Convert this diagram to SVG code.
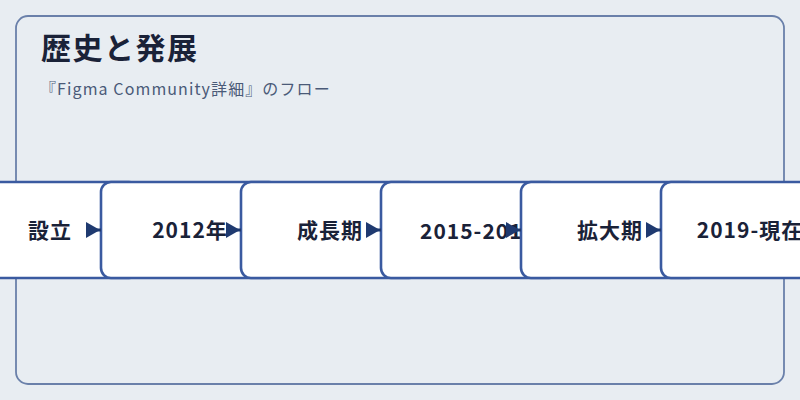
<svg xmlns="http://www.w3.org/2000/svg" width="800" height="400" viewBox="0 0 800 400">
<style>
.bg{fill:#e8edf2}
.panel{fill:#e8edf2;stroke:#6a80aa;stroke-width:1.8}
.box{fill:#ffffff;stroke:#3a5aa0;stroke-width:2.6}
.lbl{font-family:"Noto Sans CJK JP","Noto Sans",sans-serif;font-weight:700;font-size:21px;fill:#1a2238;text-anchor:middle;letter-spacing:1px}
.title{font-family:"Noto Sans CJK JP","Noto Sans",sans-serif;font-weight:700;font-size:30px;fill:#1a2238;letter-spacing:1.5px}
.sub{font-family:"Noto Sans CJK JP","Noto Sans",sans-serif;font-size:16px;fill:#4a5a78;letter-spacing:1.1px}
.conn{stroke:#1f3a70;stroke-width:3;fill:none}
.head{fill:#1f3a70}
</style>
<rect class="bg" x="0" y="0" width="800" height="400"/>
<rect class="panel" x="16" y="16" width="768" height="368" rx="12"/>
<text class="title" x="41" y="59">歴史と発展</text>
<text class="sub" x="40" y="95">『Figma Community詳細』のフロー</text>
<g id="node1"><rect class="box" x="-39" y="182" width="178" height="96" rx="10"/><text class="lbl" x="50" y="238">設立</text></g>
<g id="node2"><rect class="box" x="101" y="182" width="178" height="96" rx="10"/><text class="lbl" x="190" y="238">2012年</text></g>
<g id="node3"><rect class="box" x="241" y="182" width="178" height="96" rx="10"/><text class="lbl" x="330" y="238">成長期</text></g>
<g id="node4"><rect class="box" x="381" y="182" width="178" height="96" rx="10"/><text class="lbl" x="478" y="239">2015-2018</text></g>
<g id="node5"><rect class="box" x="521" y="182" width="178" height="96" rx="10"/><text class="lbl" x="610" y="238">拡大期</text></g>
<g id="node6"><rect class="box" x="661" y="182" width="178" height="96" rx="10"/><text class="lbl" x="750" y="238">2019-現在</text></g>
<g id="connectors">
<line class="conn" x1="90" y1="230" x2="101" y2="230"/><polygon class="head" points="86,222 100,230 86,238"/>
<line class="conn" x1="230" y1="230" x2="241" y2="230"/><polygon class="head" points="226,222 240,230 226,238"/>
<line class="conn" x1="370" y1="230" x2="381" y2="230"/><polygon class="head" points="366,222 380,230 366,238"/>
<line class="conn" x1="510" y1="230" x2="521" y2="230"/><polygon class="head" points="506,222 520,230 506,238"/>
<line class="conn" x1="650" y1="230" x2="661" y2="230"/><polygon class="head" points="646,222 660,230 646,238"/>
</g>
</svg>
